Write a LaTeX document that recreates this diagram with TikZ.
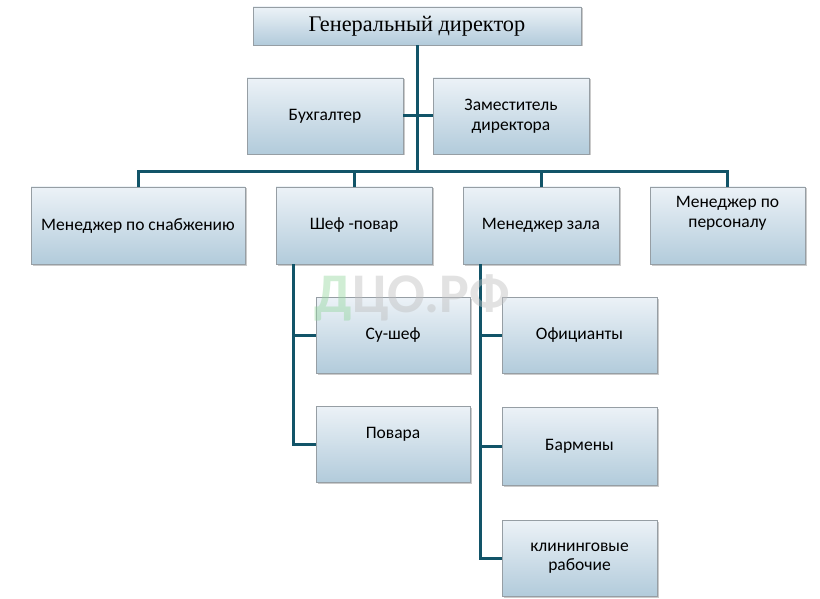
\documentclass[tikz,border=0pt]{standalone}
\usepackage{fontspec}
\setmainfont{Carlito}
\newfontfamily\headfont{Liberation Serif}
\usetikzlibrary{shadows}
\definecolor{boxtop}{RGB}{236,242,247}
\definecolor{boxbot}{RGB}{178,203,219}
\definecolor{boxedge}{RGB}{150,158,164}
\definecolor{linkteal}{RGB}{18,84,104}
\definecolor{markgreen}{RGB}{150,215,160}
\tikzset{every picture/.style={line width=0.75pt}}
\tikzset{
  orgbox/.style={draw=boxedge, top color=boxtop, bottom color=boxbot, inner sep=0pt,
    align=center, font=\fontsize{17.5}{20}\selectfont,
    drop shadow={shadow xshift=1.5pt, shadow yshift=-1.5pt, opacity=0.35, fill=black!60}},
  link/.style={draw=linkteal, line width=3pt}
}

\begin{document}
\begin{tikzpicture}[x=1pt,y=1pt,yscale=-1,xscale=1]
\useasboundingbox (0,0) rectangle (820,599);

%Shape: Rectangle [top]
\node[orgbox, minimum width=328pt, minimum height=38pt, font=\headfont\fontsize{22.3}{25}\selectfont] (gendir) at (417,26) {Генеральный директор};
%Shape: Rectangle [staff]
\node[orgbox, minimum width=156pt, minimum height=76pt] (buh) at (325,116) {Бухгалтер};
\node[orgbox, minimum width=156pt, minimum height=76pt] (zam) at (511,116) {Заместитель\\директора};
%Shape: Rectangle [second row]
\node[orgbox, minimum width=214pt, minimum height=77pt] (snab) at (138,225.5) {Менеджер по снабжению};
\node[orgbox, minimum width=156pt, minimum height=77pt] (shef) at (354,225.5) {Шеф -повар};
\node[orgbox, minimum width=156pt, minimum height=77pt] (zal) at (541,225.5) {Менеджер зала};
\node[orgbox, minimum width=155pt, minimum height=77pt, text depth=28pt] (pers) at (727.5,225.5) {Менеджер по\\персоналу};
%Shape: Rectangle [kitchen]
\node[orgbox, minimum width=154pt, minimum height=76pt] (sushef) at (393,335) {Су-шеф};
\node[orgbox, minimum width=154pt, minimum height=76pt, text depth=23pt] (povara) at (393,444) {Повара};
%Shape: Rectangle [hall]
\node[orgbox, minimum width=155pt, minimum height=76pt] (ofic) at (579.5,335) {Официанты};
\node[orgbox, minimum width=155pt, minimum height=78pt] (barm) at (579.5,446) {Бармены};
\node[orgbox, minimum width=155pt, minimum height=76pt, font=\fontsize{17.5}{18.5}\selectfont] (klin) at (579.5,558) {клининговые\\рабочие};

\coordinate (busL) at (138,172);
\coordinate (busR) at (727.5,172);
\coordinate (kitchen) at (293,264);
\coordinate (hall) at (480,264);

%Straight Lines [director]
\draw[link] (gendir.south) -- (gendir.south |- busL);
\draw[link] (buh.east) -- (zam.west);
%Straight Lines [bus]
\draw[link] (snab.north) |- (busR) -- (pers.north);
\draw[link] (shef.north) -- (shef.north |- busL);
\draw[link] (zal.north) -- (zal.north |- busL);
%Straight Lines [kitchen]
\draw[link] (kitchen) |- (povara.west);
\draw[link] (kitchen |- sushef.west) -- (sushef.west);
%Straight Lines [hall]
\draw[link] (hall) |- (klin.west);
\draw[link] (hall |- ofic.west) -- (ofic.west);
\draw[link] (hall |- barm.west) -- (barm.west);

%Text: watermark
\node[opacity=0.45, font=\bfseries\fontsize{56}{60}\selectfont, inner sep=0pt] (mark) at (412,298) {\textcolor{markgreen}{Д}\textcolor{black!25}{ЦО.РФ}};

\end{tikzpicture}
\end{document}
